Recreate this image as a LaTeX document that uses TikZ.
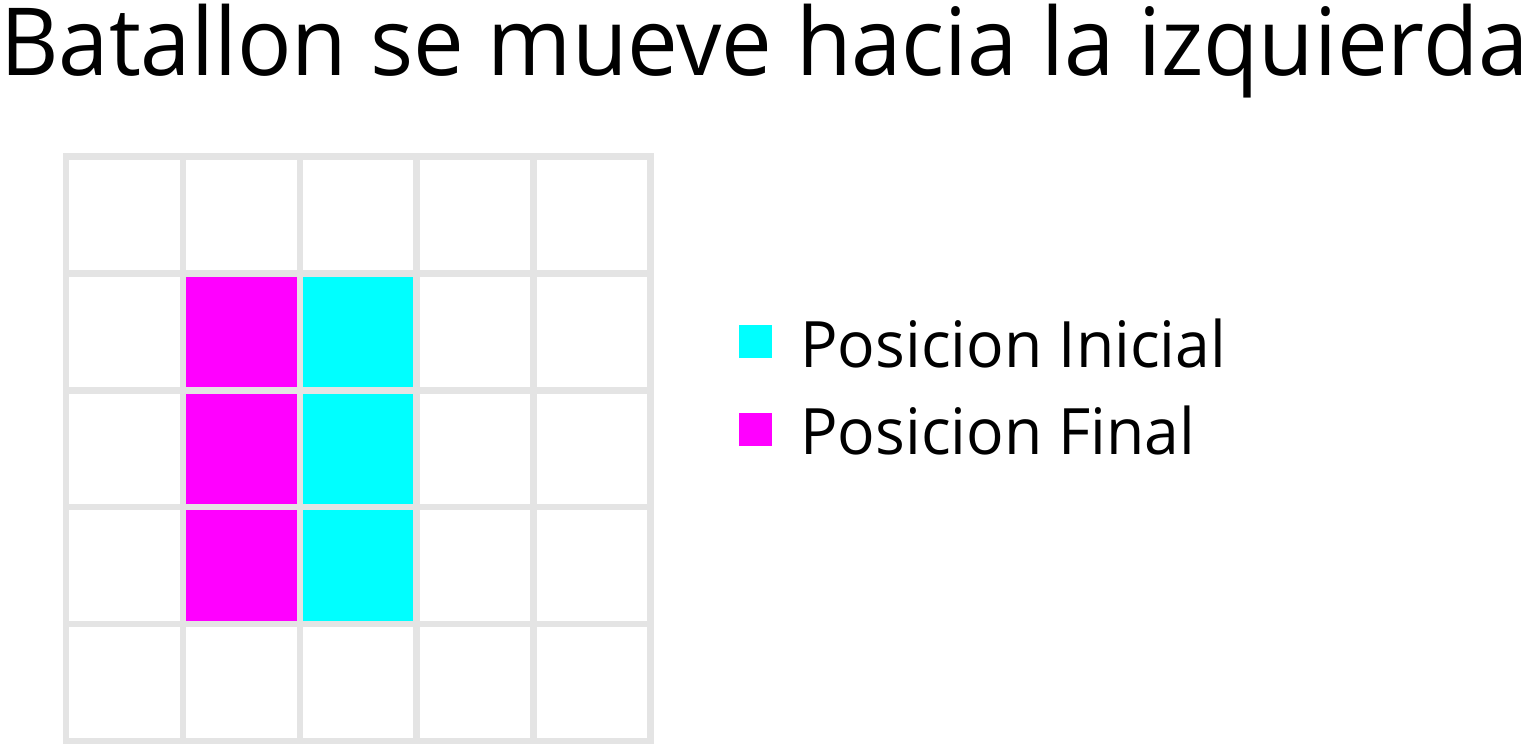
\documentclass[tikz,border=0pt]{standalone}
\usepackage{fontspec}
\setmainfont{Open Sans}
\definecolor{gridgray}{HTML}{E4E4E4}
\definecolor{cyanc}{HTML}{00FFFF}
\definecolor{magc}{HTML}{FF00FF}
\newcommand{\hsq}[2][0.975]{\scalebox{#1}[1]{#2}}
\begin{document}
\begin{tikzpicture}[x=1pt,y=-1pt,
  gridline/.style={draw=gridgray,line width=6.5pt},
  legendbox/.style={minimum size=33pt,inner sep=0pt,outer sep=0pt},
  legendtext/.style={anchor=base west,inner sep=0pt,font=\fontsize{64}{64}\selectfont},
  titletext/.style={anchor=base west,inner sep=0pt,font=\fontsize{94}{94}\selectfont}]
\useasboundingbox (0,0) rectangle (1537,745);
% fills
\def\c{116.9}
\foreach \r in {1,2,3}{
  \fill[magc] (66+\c,156.5+\r*\c) rectangle (66+2*\c,156.5+\r*\c+\c);
  \fill[cyanc] (66+2*\c,156.5+\r*\c) rectangle (66+3*\c,156.5+\r*\c+\c);
}
% grid
\foreach \i in {0,...,5}{
  \draw[gridline] (66+\i*\c,153.25) -- (66+\i*\c,744.25);
  \draw[gridline] (62.75,156.5+\i*\c) -- (653.75,156.5+\i*\c);
}
\node[titletext] (title) at (0,75) {\hsq[0.962]{Batallon se mueve hacia la izquierda}};
\node[legendbox,fill=cyanc] (lc) at (755.5,341.5) {};
\node[legendbox,fill=magc] (lm) at (755.5,429) {};
\node[legendtext] (ti) at (800,367) {\hsq{Posicion Inicial}};
\node[legendtext] (tf) at (800,454) {\hsq{Posicion Final}};
\end{tikzpicture}
\end{document}
